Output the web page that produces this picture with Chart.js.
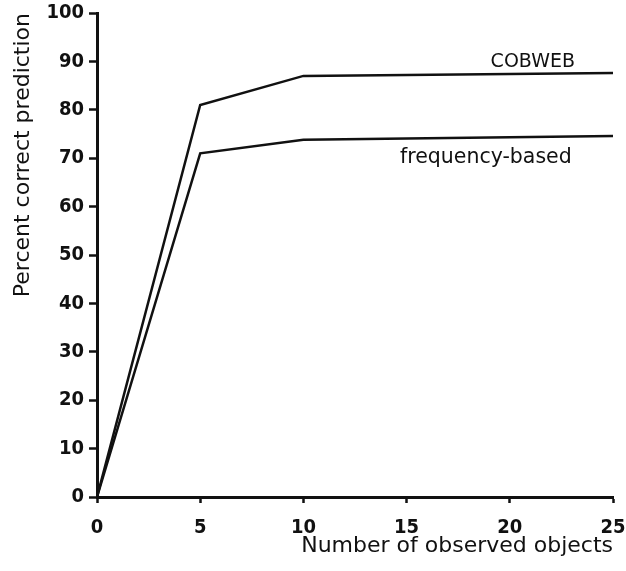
<!DOCTYPE html>
<html>
<head>
<meta charset="utf-8">
<script src="https://cdn.jsdelivr.net/npm/chart.js@4.4.1/dist/chart.umd.min.js"></script>
<style>
html,body{margin:0;padding:0;background:#fff;}
#wrap{width:626px;height:571px;position:relative;}
</style>
</head>
<body>
<div id="wrap"><canvas id="c" width="626" height="571"></canvas></div>
<script>
const objectsObserved = [0, 5, 10, 25];
const cobwebValues = [0, 81, 87, 87.6];
const frequencyValues = [0, 71, 73.8, 74.6];
const xTicks = [0, 5, 10, 15, 20, 25];
const yTicks = [0, 10, 20, 30, 40, 50, 60, 70, 80, 90, 100];
const seriesLabels = ['COBWEB', 'frequency-based'];
const xTitle = 'Number of observed objects';
const yTitle = 'Percent correct prediction';

const tickFont = {family: '"DejaVu Sans Condensed", "DejaVu Sans"', size: 20, weight: 'bold'};
const titleFont = {family: '"DejaVu Sans"', size: 22, weight: '500'};

const annotate = {
  id: 'annotate',
  afterDraw(chart) {
    const ctx = chart.ctx;
    const xs = chart.scales.x, ys = chart.scales.y;
    ctx.save();
    ctx.fillStyle = '#111';
    ctx.textBaseline = 'alphabetic';
    ctx.textAlign = 'right';
    ctx.font = '500 19px "DejaVu Sans"';
    ctx.fillText(seriesLabels[0], xs.getPixelForValue(23.16), ys.getPixelForValue(88.8));
    ctx.font = '500 20.5px "DejaVu Sans"';
    ctx.fillText(seriesLabels[1], xs.getPixelForValue(23.0), ys.getPixelForValue(69.0));
    ctx.restore();
  }
};

new Chart(document.getElementById('c'), {
  type: 'line',
  data: {
    datasets: [
      {label: seriesLabels[0], data: objectsObserved.map((x, i) => ({x, y: cobwebValues[i]})),
       borderColor: '#111', borderWidth: 2.5, pointRadius: 0, tension: 0, fill: false},
      {label: seriesLabels[1], data: objectsObserved.map((x, i) => ({x, y: frequencyValues[i]})),
       borderColor: '#111', borderWidth: 2.5, pointRadius: 0, tension: 0, fill: false}
    ]
  },
  options: {
    responsive: false,
    animation: false,
    layout: {padding: {top: 13, right: 13, left: 0, bottom: 0}},
    plugins: {legend: {display: false}, tooltip: {enabled: false}},
    scales: {
      x: {
        type: 'linear', min: 0, max: 25,
        afterBuildTicks: s => { s.ticks = xTicks.map(v => ({value: v})); },
        afterFit: s => { s.height = 74; s.paddingLeft = 0; s.paddingRight = 0; },
        grid: {display: true, drawOnChartArea: false, drawTicks: true, tickLength: 6, tickWidth: 2.5, color: '#111'},
        border: {display: true, color: '#111', width: 3},
        ticks: {color: '#111', font: tickFont, padding: 13, maxRotation: 0},
        title: {display: true, text: xTitle, align: 'end', color: '#111', font: titleFont,
                padding: {top: 0, bottom: 12}}
      },
      y: {
        type: 'linear', min: 0, max: 100,
        afterBuildTicks: s => { s.ticks = yTicks.map(v => ({value: v})); },
        afterFit: s => { s.width = 97; s.paddingTop = 0; s.paddingBottom = 0; },
        grid: {display: true, drawOnChartArea: false, drawTicks: true, tickLength: 8, tickWidth: 2.5, color: '#111'},
        border: {display: true, color: '#111', width: 3},
        ticks: {color: '#111', font: tickFont, padding: 5},
        title: {display: true, text: yTitle, align: 'end', color: '#111', font: titleFont,
                padding: {top: 10, bottom: 0}}
      }
    }
  },
  plugins: [annotate]
});
</script>
</body>
</html>
